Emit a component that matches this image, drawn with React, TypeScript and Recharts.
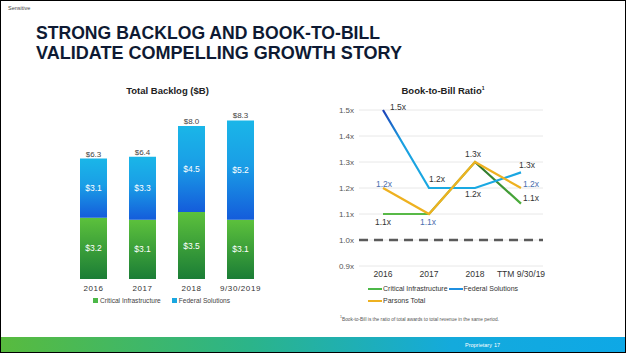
import React from "react";
import {
  BarChart,
  Bar,
  XAxis,
  YAxis,
  LabelList,
  Legend,
  LineChart,
  Line,
  CartesianGrid,
  ReferenceLine,
} from "recharts";

// Total backlog ($B)
const years = ["2016", "2017", "2018", "9/30/2019"];
const criticalInfra = [3.2, 3.1, 3.5, 3.1];
const federalSolutions = [3.1, 3.3, 4.5, 5.2];
const backlogTotal = [6.3, 6.4, 8.0, 8.3];

// Book-to-bill ratio
const ratioPeriods = ["2016", "2017", "2018", "TTM 9/30/19"];
const ciRatio = [1.1, 1.1, 1.3, 1.14];
const fsRatio = [1.5, 1.2, 1.2, 1.26];
const totalRatio = [1.2, 1.1, 1.3, 1.2];
const ratioTicks = [0.9, 1.0, 1.1, 1.2, 1.3, 1.4, 1.5];

const backlogData = years.map((y, i) => ({
  year: y,
  ci: criticalInfra[i],
  fs: federalSolutions[i],
  total: backlogTotal[i],
}));

const ratioData = ratioPeriods.map((p, i) => ({
  period: p,
  ci: ciRatio[i],
  fs: fsRatio[i],
  total: totalRatio[i],
}));

// label offsets [dx, dy] from each point, null = no label
const labelOffsets: Record<string, ([number, number] | null)[]> = {
  fs: [[15, -3], [8, -9], [-2, 6], [6, -7]],
  ci: [[0, 8], null, [-2, -8], [10, -6]],
  total: [[1, -4], [-1, 8], null, [10, -4]],
};
const labelColors: Record<string, string> = { fs: "#333", ci: "#333", total: "#4a6fae" };

const FONT = "'Liberation Sans', Arial, sans-serif";

const money = (v: any) => `$${Number(v).toFixed(1)}`;

const ratioLabel = (key: string) => (props: any) => {
  const { x, y, value, index } = props;
  const off = labelOffsets[key][index];
  if (!off) return null;
  return (
    <text
      x={x + off[0]}
      y={y + off[1]}
      textAnchor="middle"
      dominantBaseline="central"
      fontSize={8.5}
      fill={labelColors[key]}
    >
      {Number(value).toFixed(1)}x
    </text>
  );
};

const barLegend = () => (
  <div style={{ display: "flex", justifyContent: "center", fontSize: 6.6, color: "#444", lineHeight: "11px" }}>
    {[
      ["Critical Infrastructure", "#4cb848"],
      ["Federal Solutions", "#1aa7e0"],
    ].map(([name, c]) => (
      <span key={name} style={{ marginRight: 11, display: "flex", alignItems: "center" }}>
        <span style={{ width: 5, height: 5, background: c, marginRight: 2, display: "inline-block" }} />
        {name}
      </span>
    ))}
  </div>
);

const lineLegend = () => (
  <div style={{ marginLeft: 48, width: 165, display: "flex", flexWrap: "wrap", fontSize: 7, color: "#333", lineHeight: "12px" }}>
    {[
      ["Critical Infrastructure", "#4cb848"],
      ["Federal Solutions", "#1f8fe0"],
      ["Parsons Total", "#eeb120"],
    ].map(([name, c]) => (
      <span key={name} style={{ display: "flex", alignItems: "center", marginRight: 1 }}>
        <span style={{ width: 14, height: 2, background: c, marginRight: 1, display: "inline-block" }} />
        {name}
      </span>
    ))}
  </div>
);

export default function App() {
  return (
    <div
      style={{
        position: "absolute",
        left: 0,
        top: 0,
        width: 626,
        height: 353,
        boxSizing: "border-box",
        border: "1px solid #000",
        background: "#fff",
        overflow: "hidden",
        fontFamily: FONT,
      }}
    >
      <div style={{ position: "absolute", left: 7, top: 4, fontSize: 5.5, color: "#444" }}>Sensitive</div>
      <svg style={{ position: "absolute", left: 0, top: 0 }} width={626} height={70}>
        <text x={35} y={38} fontSize={19} fontWeight="bold" fill="#0e1a33" textLength={344} lengthAdjust="spacingAndGlyphs">
          STRONG BACKLOG AND BOOK-TO-BILL
        </text>
        <text x={35} y={58} fontSize={19} fontWeight="bold" fill="#0e1a33" textLength={366} lengthAdjust="spacingAndGlyphs">
          VALIDATE COMPELLING GROWTH STORY
        </text>
      </svg>

      <div style={{ position: "absolute", left: 59, top: 84, width: 215, textAlign: "center", fontSize: 9.5, fontWeight: "bold", color: "#222" }}>
        Total Backlog ($B)
      </div>
      <div style={{ position: "absolute", left: 59, top: 94 }}>
        <BarChart width={215} height={215} data={backlogData} margin={{ top: 12, right: 10, left: 9, bottom: 4 }} barSize={27}>
          <defs>
            <linearGradient id="gCI" x1="0" y1="0" x2="0" y2="1">
              <stop offset="0%" stopColor="#5cc13c" />
              <stop offset="100%" stopColor="#1b7d36" />
            </linearGradient>
            <linearGradient id="gFS" x1="0" y1="0" x2="0" y2="1">
              <stop offset="0%" stopColor="#1ab6e8" />
              <stop offset="45%" stopColor="#1a9ee6" />
              <stop offset="100%" stopColor="#145cdb" />
            </linearGradient>
          </defs>
          <XAxis
            dataKey="year"
            axisLine={false}
            tickLine={false}
            tickSize={4}
            height={16}
            interval={0}
            tick={{ fontSize: 8, fill: "#333", letterSpacing: 0.6 }}
          />
          <YAxis hide domain={[0, 9]} />
          <Legend verticalAlign="bottom" content={barLegend} />
          <Bar dataKey="ci" stackId="a" fill="url(#gCI)" isAnimationActive={false}>
            <LabelList dataKey="ci" position="center" fill="#fff" fontSize={8.5} formatter={money} />
          </Bar>
          <Bar dataKey="fs" stackId="a" fill="url(#gFS)" isAnimationActive={false}>
            <LabelList dataKey="fs" position="center" fill="#fff" fontSize={8.5} formatter={money} />
            <LabelList dataKey="total" position="top" offset={2} fill="#444" fontSize={8} formatter={money} />
          </Bar>
        </BarChart>
      </div>

      <div style={{ position: "absolute", left: 320, top: 84, width: 244, textAlign: "center", fontSize: 9.5, fontWeight: "bold", color: "#222" }}>
        Book-to-Bill Ratio<sup style={{ fontSize: 5 }}>1</sup>
      </div>
      <div style={{ position: "absolute", left: 319, top: 94 }}>
        <LineChart width={240} height={230} data={ratioData} margin={{ top: 15, right: 17, left: 0, bottom: 18 }}>
          <defs>
            <linearGradient id="gFsLine" x1="0" y1="0" x2="0" y2="1">
              <stop offset="0%" stopColor="#1d3fb8" />
              <stop offset="40%" stopColor="#1a9fe0" />
              <stop offset="100%" stopColor="#1aa9e2" />
            </linearGradient>
            <linearGradient id="gCiLine" x1="0" y1="0" x2="1" y2="0">
              <stop offset="0%" stopColor="#58b947" />
              <stop offset="66%" stopColor="#58b947" />
              <stop offset="67%" stopColor="#2b6e2a" />
              <stop offset="100%" stopColor="#4caf3c" />
            </linearGradient>
          </defs>
          <CartesianGrid vertical={false} stroke="#e8e8e8" />
          <XAxis
            dataKey="period"
            axisLine={false}
            tickLine={false}
            tickSize={3}
            tickMargin={2}
            height={17}
            interval={0}
            padding={{ left: 24, right: 22 }}
            tick={{ fontSize: 8.5, fill: "#333" }}
          />
          <YAxis
            width={39}
            domain={[0.9, 1.5]}
            ticks={ratioTicks}
            axisLine={false}
            tickLine={false}
            tickSize={3}
            tickMargin={2}
            tick={{ fontSize: 8, fill: "#555" }}
            tickFormatter={(v: number) => `${v.toFixed(1)}x`}
          />
          <ReferenceLine y={1.0} stroke="#5a5a5a" strokeWidth={2.5} strokeDasharray="9 6" />
          <Legend verticalAlign="bottom" align="left" content={lineLegend} />
          <Line dataKey="ci" stroke="url(#gCiLine)" strokeWidth={2.2} dot={false} isAnimationActive={false}>
            <LabelList dataKey="ci" content={ratioLabel("ci")} />
          </Line>
          <Line dataKey="fs" stroke="url(#gFsLine)" strokeWidth={2.2} dot={false} isAnimationActive={false}>
            <LabelList dataKey="fs" content={ratioLabel("fs")} />
          </Line>
          <Line dataKey="total" stroke="#eeb120" strokeWidth={2.2} dot={false} isAnimationActive={false}>
            <LabelList dataKey="total" content={ratioLabel("total")} />
          </Line>
        </LineChart>
      </div>

      <div style={{ position: "absolute", left: 339, top: 314, fontSize: 4.8, color: "#555", whiteSpace: "nowrap" }}>
        <sup style={{ fontSize: 3.5 }}>1</sup>Book-to-Bill is the ratio of total awards to total revenue in the same period.
      </div>

      <div
        style={{
          position: "absolute",
          left: 0,
          top: 336,
          width: 626,
          height: 16,
          background: "linear-gradient(90deg, #58bb3e 0%, #2bb48a 40%, #14aadc 72%, #0ea8e6 100%)",
        }}
      >
        <span style={{ position: "absolute", left: 464, top: 5, fontSize: 5.5, color: "#fff" }}>Proprietary</span>
        <span style={{ position: "absolute", left: 493, top: 5, fontSize: 5.5, color: "#fff" }}>17</span>
      </div>
    </div>
  );
}
